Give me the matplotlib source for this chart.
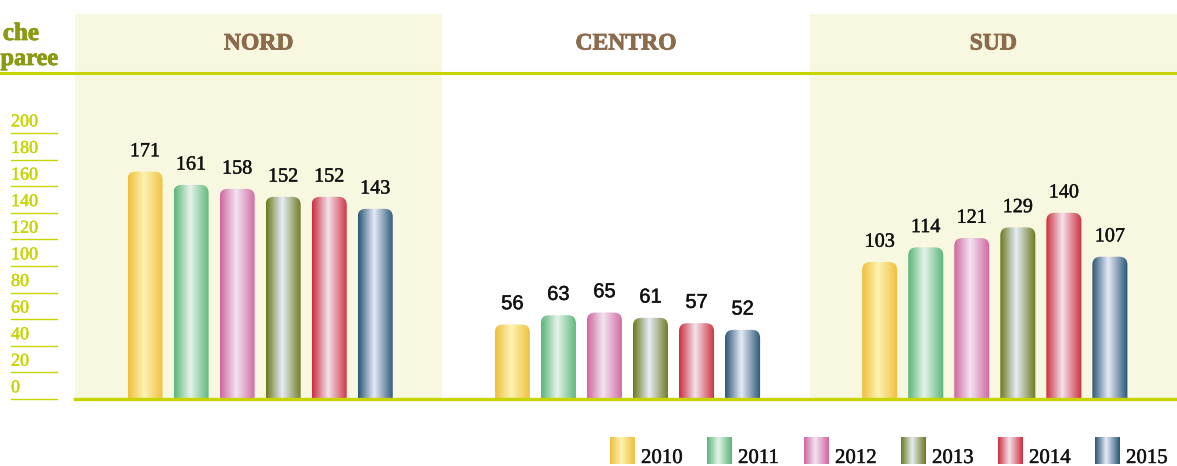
import numpy as np
import matplotlib
matplotlib.use("Agg")
import matplotlib.pyplot as plt
import matplotlib.patheffects as pe
from matplotlib.patches import FancyBboxPatch
from matplotlib.colors import LinearSegmentedColormap
from matplotlib.transforms import blended_transform_factory
from matplotlib.lines import Line2D

groups = ["NORD", "CENTRO", "SUD"]
years = ["2010", "2011", "2012", "2013", "2014", "2015"]
nord = [171, 161, 158, 152, 152, 143]
centro = [56, 63, 65, 61, 57, 52]
sud = [103, 114, 121, 129, 140, 107]
values = [nord, centro, sud]
yticks = list(range(0, 201, 20))

# gradient colours per year: edge, highlight
edge = ["#efbf3e", "#5bb57a", "#d0679f", "#6d7a1e", "#cc2f40", "#2b5777"]
light = ["#fcf3b2", "#e5f3e8", "#f2e4f2", "#e6ecf7", "#f3e3eb", "#e6eaf7"]
cmaps = [LinearSegmentedColormap.from_list("g%d" % i, [(0, e), (0.45, l), (1, e)])
         for i, (e, l) in enumerate(zip(edge, light))]
grad = np.linspace(0, 1, 64).reshape(1, -1)

lime = "#c8d400"
panel = "#f8f8e0"
brown = "#8c6a4c"
olive = "#8a9a12"
heavy = [pe.withStroke(linewidth=0.3, foreground="#111111")]

W, H = 1177, 466
fig = plt.figure(figsize=(W / 100, H / 100), dpi=100)

# main axes: x from 75 to 1177 px, y=0 at 399 px, top at 14 px
px_per_unit = 266 / 200.0
top = 385 / px_per_unit
ax = fig.add_axes([75 / W, (H - 399) / H, (W - 75) / W, 385 / H])
ax.set_xlim(-0.5, 2.5)
ax.set_ylim(0, top)
ax.axis("off")

step = 46 / 367.0
bw = 35 / 367.0
rad = 8 / 367.0
asp = (1 / px_per_unit) / (1 / 367.0)

for gi in (0, 2):
    ax.axvspan(gi - 0.5, gi + 0.5, color=panel, zorder=0, lw=0)

for gi, g in enumerate(groups):
    lab_font = "Liberation Sans" if g == "CENTRO" else "Liberation Serif"
    for yi, v in enumerate(values[gi]):
        xc = gi + (yi - 2.5) * step + 0.004
        x0 = xc - bw / 2
        clip = FancyBboxPatch((x0, -30), bw, v + 30,
                              boxstyle="round,pad=0,rounding_size=%f" % rad,
                              mutation_aspect=asp, facecolor="none",
                              edgecolor="none", transform=ax.transData)
        ax.add_patch(clip)
        im = ax.imshow(grad, cmap=cmaps[yi], extent=[x0, x0 + bw, 0, v],
                       aspect="auto", zorder=2, interpolation="bilinear")
        im.set_clip_path(clip)
        ax.annotate(str(v), (xc, v), xytext=(0, 11), textcoords="offset points",
                    ha="center", va="baseline", fontsize=14.5, family=lab_font,
                    color="#111111", path_effects=heavy)
    ax.text(gi, (399 - 44) / px_per_unit, g, ha="center", va="center",
            fontsize=17, fontweight="bold", family="Liberation Serif", color=brown,
            path_effects=[pe.withStroke(linewidth=0.6, foreground=brown)])

ax.set_xlim(-0.5, 2.5)
ax.set_ylim(0, top)

# header rule and baseline
ax.axhline((399 - 73) / px_per_unit, xmin=-75 / (W - 75), xmax=1, color=lime,
           lw=2.2, clip_on=False, zorder=3)
ax.axhline(0, color=lime, lw=2.4, clip_on=False, zorder=3)

# y tick labels with underlines
tr = blended_transform_factory(fig.transFigure, ax.transData)
for t in yticks:
    ax.add_line(Line2D([11 / W, 57 / W], [t, t], transform=tr, color=lime,
                       lw=1.0, clip_on=False))
    ax.text(11 / W, t + 2, str(t), transform=tr, ha="left", va="bottom",
            fontsize=13, family="Liberation Serif", color=lime, clip_on=False,
            path_effects=[pe.withStroke(linewidth=0.3, foreground=lime)])

# overlay in pixel coordinates for legend and left title
ov = fig.add_axes([0, 0, 1, 1], facecolor="none")
ov.set_xlim(0, W)
ov.set_ylim(H, 0)
ov.axis("off")
ov.text(39, 40, "che", ha="right", va="baseline", fontsize=18,
        fontweight="bold", family="Liberation Serif", color=olive,
        path_effects=[pe.withStroke(linewidth=0.6, foreground=olive)])
ov.text(58, 65, "paree", ha="right", va="baseline", fontsize=17.5,
        fontweight="bold", family="Liberation Serif", color=olive,
        path_effects=[pe.withStroke(linewidth=0.6, foreground=olive)])

for yi, y in enumerate(years):
    lx = 610 + yi * 97
    ov.imshow(grad, cmap=cmaps[yi], extent=[lx, lx + 25, 464, 437],
              aspect="auto", interpolation="bilinear")
    ov.text(lx + 31, 463, y, ha="left", va="baseline", fontsize=15,
            family="Liberation Serif", color="#111111", path_effects=heavy)
ov.set_xlim(0, W)
ov.set_ylim(H, 0)

fig.savefig("out.png", dpi=100)
